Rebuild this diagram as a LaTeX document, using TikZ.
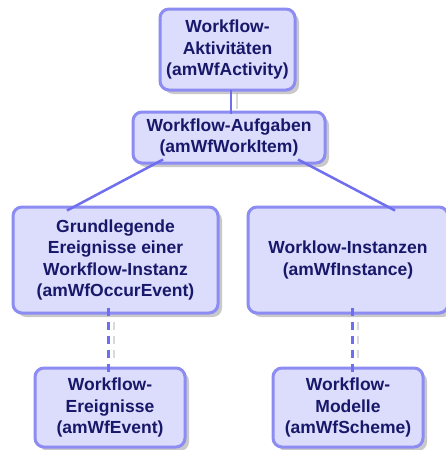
\documentclass[tikz,border=0pt]{standalone}
\usepackage{fontspec}
\setmainfont{Liberation Sans}
\usetikzlibrary{shadows}
\definecolor{boxfill}{HTML}{DCDCFC}
\definecolor{boxline}{HTML}{8C8CF2}
\definecolor{txt}{HTML}{18186A}
\definecolor{conncol}{HTML}{6E6EEE}
\tikzset{
  box/.style={draw=boxline, line width=3pt, fill=boxfill, rounded corners=9pt,
    align=center, text=txt, font=\fontsize{17.5}{21.5}\selectfont\bfseries,
    inner sep=0pt,
    drop shadow={shadow xshift=4pt, shadow yshift=-4pt, fill=black!35, opacity=0.6}},
  conn/.style={draw=conncol, line width=2.5pt},
  dconn/.style={draw=conncol, line width=3pt, dash pattern=on 8pt off 6pt},
  connshadow/.style={draw=black!15, line width=2.5pt},
}
\begin{document}
\begin{tikzpicture}[x=1pt,y=-1pt]
\useasboundingbox[fill=white] (0,0) rectangle (445,450);
% connectors shadows
\draw[connshadow] (237,93) -- (237,109);
\draw[connshadow, dash pattern=on 8pt off 6pt] (114,322) -- (114,364);
\draw[connshadow, dash pattern=on 8pt off 6pt] (358,322) -- (358,364);
% nodes
\node[box, minimum width=135pt, minimum height=81pt] (b1) at (227.5,49.5) {Workflow-\\Aktivitäten\\(amWfActivity)};
\node[box, minimum width=192pt, minimum height=51pt] (b2) at (229,137.5) {Workflow-Aufgaben\\(amWfWorkItem)};
\node[box, minimum width=205pt, minimum height=106pt] (b3) at (115.5,260) {Grundlegende\\Ereignisse einer\\Workflow-Instanz\\(amWfOccurEvent)};
\node[box, minimum width=200pt, minimum height=106pt] (b4) at (348,260) {Worklow-Instanzen\\(amWfInstance)};
\node[box, minimum width=150pt, minimum height=79pt] (b5) at (110,407.5) {Workflow-\\Ereignisse\\(amWfEvent)};
\node[box, minimum width=150pt, minimum height=79pt] (b6) at (348,407.5) {Workflow-\\Modelle\\(amWfScheme)};
% connectors
\draw[conn] ([xshift=3.5pt,yshift=2pt]b1.south) -- ([xshift=2pt,yshift=-3pt]b2.north);
\draw[conn] ([xshift=-66pt,yshift=5pt]b2.south) -- ([xshift=-48.5pt,yshift=-5pt]b3.north);
\draw[conn] ([xshift=69pt,yshift=5pt]b2.south) -- ([xshift=47pt,yshift=-5pt]b4.north);
\draw[dconn] ([xshift=-7.5pt,yshift=7pt]b3.south) -- ([xshift=-2pt,yshift=-6pt]b5.north);
\draw[dconn] ([xshift=4pt,yshift=7pt]b4.south) -- ([xshift=4pt,yshift=-6pt]b6.north);
\end{tikzpicture}
\end{document}
